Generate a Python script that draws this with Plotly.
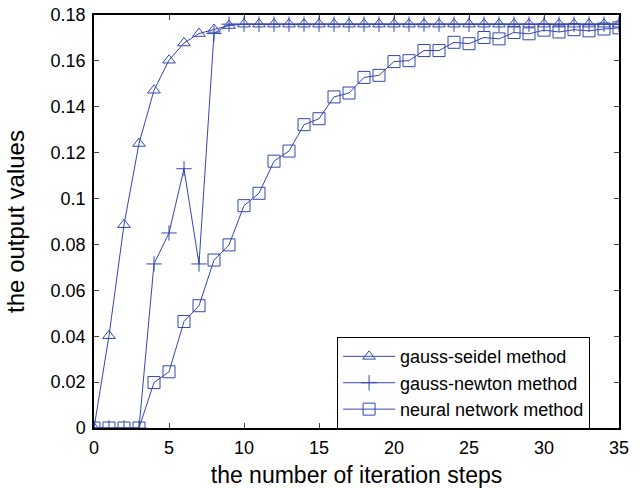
import plotly.graph_objects as go

steps = list(range(36))
gauss_seidel = [0, 0.0402, 0.0886, 0.1240, 0.1472, 0.1603, 0.1678, 0.1719, 0.1737, 0.1754] + [0.1760] * 26
gauss_newton = [0, 0, 0, 0, 0.0715, 0.0850, 0.1130, 0.0715, 0.1719] + [0.1760] * 27
neural = [0, 0, 0, 0, 0.0198, 0.0245, 0.0464, 0.0533, 0.0732, 0.0798,
          0.0969, 0.1023, 0.1163, 0.1207, 0.1322, 0.1348, 0.1443, 0.1460, 0.1528, 0.1537,
          0.1597, 0.1601, 0.1645, 0.1645, 0.1681, 0.1675, 0.1702, 0.1696, 0.1724, 0.1718,
          0.1734, 0.1726, 0.1736, 0.1731, 0.1739, 0.1744]
names = ["gauss-seidel method", "gauss-newton method", "neural network method"]
x_ticks = [0, 5, 10, 15, 20, 25, 30, 35]
y_ticks = [0, 0.02, 0.04, 0.06, 0.08, 0.1, 0.12, 0.14, 0.16, 0.18]
y_labels = ["0", "0.02", "0.04", "0.06", "0.08", "0.1", "0.12", "0.14", "0.16", "0.18"]

color = "#3546b0"
font = "Liberation Sans, Arial, sans-serif"

fig = go.Figure()
series = [(gauss_seidel, "triangle-up-open", 11),
          (gauss_newton, "cross-thin-open", 11),
          (neural, "square-open", 12)]
for (vals, sym, sz), nm in zip(series, names):
    fig.add_trace(go.Scatter(
        x=steps, y=vals, name=nm, mode="lines+markers",
        line=dict(color=color, width=1),
        marker=dict(symbol=sym, size=sz, color=color, line=dict(color=color, width=1)),
    ))

fig.update_layout(
    width=643, height=488,
    margin=dict(l=94, r=24, t=15, b=60),
    plot_bgcolor="white", paper_bgcolor="white",
    font=dict(family=font, size=18, color="black"),
    showlegend=True,
    legend=dict(x=0.463, y=0.220, xanchor="left", yanchor="top",
                bgcolor="white", bordercolor="black", borderwidth=1,
                font=dict(size=18), tracegroupgap=0, itemwidth=52),
)
fig.update_xaxes(
    range=[0, 35], tickvals=x_ticks, ticks="inside", ticklen=5,
    showline=True, linecolor="black", linewidth=1.5, mirror="ticks",
    showgrid=False, zeroline=False, ticklabelstandoff=3, automargin=False,
    title=dict(text="the number of iteration steps", font=dict(size=23), standoff=10),
    tickfont=dict(size=18),
)
fig.update_yaxes(
    range=[0, 0.18], tickvals=y_ticks, ticktext=y_labels, ticks="inside", ticklen=5,
    showline=True, linecolor="black", linewidth=1.5, mirror="ticks",
    showgrid=False, zeroline=False, ticklabelstandoff=3, automargin=False,
    title=dict(text="the output values", font=dict(size=24), standoff=19),
    tickfont=dict(size=18),
)
fig.write_html("out.html")
